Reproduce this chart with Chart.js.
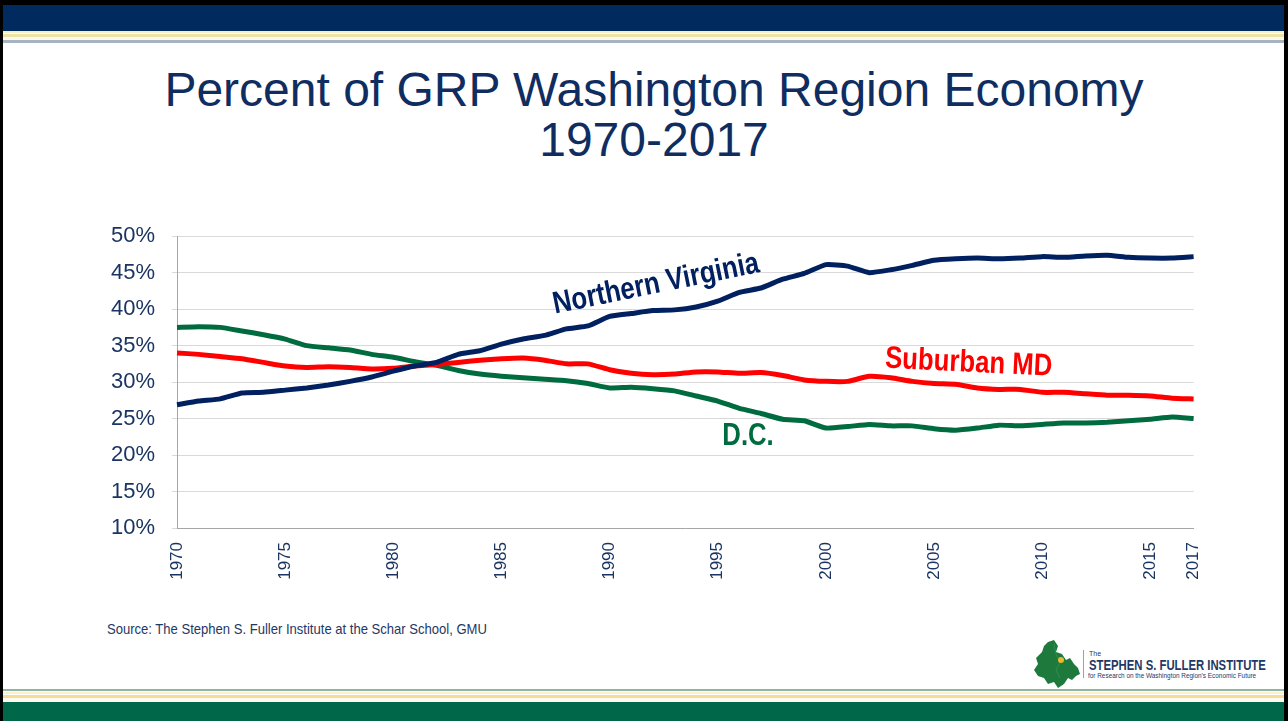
<!DOCTYPE html>
<html><head><meta charset="utf-8">
<script src="https://cdn.jsdelivr.net/npm/chart.js@4.4.1/dist/chart.umd.min.js"></script>
<style>
html,body{margin:0;padding:0;background:#fff;}
body{width:1288px;height:721px;position:relative;overflow:hidden;font-family:'Liberation Sans',Arial,sans-serif;}
.abs{position:absolute;}
.title{position:absolute;left:0;width:1308px;text-align:center;font-size:48px;line-height:50px;color:#0f2d61;white-space:nowrap;}
</style></head><body>
<!-- header -->
<div class="abs" style="left:0;top:0;width:1288px;height:5px;background:#000"></div>
<div class="abs" style="left:0;top:5px;width:1288px;height:26px;background:#012a5e"></div>
<div class="abs" style="left:0;top:31px;width:1288px;height:2px;background:#f6f0c8"></div>
<div class="abs" style="left:0;top:34px;width:1288px;height:3px;background:#efe4a6"></div>
<div class="abs" style="left:0;top:37px;width:1288px;height:3px;background:#fcfaef"></div>
<div class="abs" style="left:0;top:40px;width:1288px;height:3px;background:#a7b3c1"></div>
<!-- footer -->
<div class="abs" style="left:0;top:689px;width:1288px;height:2px;background:#8fb5a6"></div>
<div class="abs" style="left:0;top:692px;width:1288px;height:2px;background:#fbf2cc"></div>
<div class="abs" style="left:0;top:695px;width:1288px;height:3px;background:#f5dc98"></div>
<div class="abs" style="left:0;top:698px;width:1288px;height:4px;background:#fdfaf0"></div>
<div class="abs" style="left:0;top:702px;width:1288px;height:19px;background:#006848"></div>
<!-- side borders -->
<div class="abs" style="left:0;top:0;width:3px;height:721px;background:#000"></div>
<div class="abs" style="left:1284px;top:0;width:4px;height:721px;background:#000"></div>

<div class="title" style="top:65px">Percent of GRP Washington Region Economy</div>
<div class="title" style="top:115px">1970-2017</div>

<div class="abs" style="left:80px;top:206px;width:1148px;height:394px;">
  <canvas id="c" width="1148" height="394"></canvas>
</div>

<div class="abs" style="left:107px;top:621px;font-size:14.5px;line-height:16px;color:#1f3864;transform:scaleX(0.9);transform-origin:left top;white-space:nowrap;">Source: The Stephen S. Fuller Institute at the Schar School, GMU</div>

<!-- logo -->
<svg class="abs" style="left:1030px;top:638px" width="56" height="52" viewBox="0 0 56 52">
  <path d="M18 4 L24 2 L28 8 L26 14 L32 16 L36 22 L40 20 L44 26 L48 30 L50 36 L46 38 L42 42 L38 40 L34 46 L28 50 L24 44 L18 46 L14 40 L8 38 L4 32 L8 26 L6 20 L12 14 L14 8 Z" fill="#1e7a3c"/>
  <path d="M24 6 L26 16 L30 24 L26 32 L30 40" stroke="#2f8f4e" stroke-width="1" fill="none"/>
  <circle cx="31" cy="22" r="3" fill="#e8b92a"/>
</svg>
<div class="abs" style="left:1083px;top:650px;width:1px;height:28px;background:#9aa3ad"></div>
<div class="abs" style="left:1089px;top:650px;font-size:7px;line-height:8px;color:#1f3864;">The</div>
<div class="abs" style="left:1089px;top:657px;font-size:15px;line-height:15px;font-weight:bold;color:#1f3864;transform:scaleX(0.755);transform-origin:left top;white-space:nowrap;">STEPHEN S. FULLER INSTITUTE</div>
<div class="abs" style="left:1088px;top:671px;font-size:8px;line-height:9px;color:#1f3864;transform:scaleX(0.8);transform-origin:left top;white-space:nowrap;">for Research on the Washington Region's Economic Future</div>

<script>
const years = ['1970','1971','1972','1973','1974','1975','1976','1977','1978','1979',
  '1980','1981','1982','1983','1984','1985','1986','1987','1988','1989',
  '1990','1991','1992','1993','1994','1995','1996','1997','1998','1999',
  '2000','2001','2002','2003','2004','2005','2006','2007','2008','2009',
  '2010','2011','2012','2013','2014','2015','2016','2017'];

const northernVirginia = [26.9,27.4,27.7,28.5,28.6,28.9,29.2,29.6,30.1,30.7,
  31.5,32.2,32.7,33.8,34.3,35.2,35.9,36.4,37.3,37.7,
  39.0,39.4,39.8,39.9,40.3,41.1,42.3,42.9,44.1,44.9,
  46.1,45.9,45.0,45.4,46.0,46.7,46.9,47.0,46.9,47.0,
  47.2,47.1,47.3,47.4,47.1,47.0,47.0,47.2];

const suburbanMD = [34.0,33.8,33.5,33.2,32.7,32.2,32.0,32.1,32.0,31.8,
  31.9,32.2,32.4,32.7,33.0,33.2,33.3,33.0,32.5,32.5,
  31.7,31.2,31.0,31.1,31.4,31.4,31.2,31.3,30.9,30.3,
  30.1,30.1,30.8,30.6,30.1,29.8,29.7,29.2,29.0,29.0,
  28.6,28.6,28.4,28.2,28.2,28.1,27.8,27.7];

const dc = [37.5,37.6,37.5,37.0,36.5,35.9,35.0,34.7,34.4,33.8,
  33.4,32.8,32.3,31.6,31.1,30.8,30.6,30.4,30.2,29.8,
  29.2,29.3,29.1,28.8,28.1,27.4,26.4,25.7,24.9,24.7,
  23.7,23.9,24.2,24.0,24.0,23.6,23.4,23.7,24.1,24.0,
  24.2,24.4,24.4,24.5,24.7,24.9,25.2,25.0];

const yTickValues = [10,15,20,25,30,35,40,45,50];
const xTickYears = ['1970','1975','1980','1985','1990','1995','2000','2005','2010','2015','2017'];

const seriesNames = ['Northern Virginia','Suburban MD','D.C.'];
const seriesColors = ['#002060','#ff0000','#006b3f'];

// in-chart series labels, anchored in data coordinates (year index, percent)
const lineLabels = [
  {text:'Northern Virginia', xIndex:22.15, value:43.4, angle:-11.5, color:'#002060'},
  {text:'Suburban MD', xIndex:36.6, value:32.6, angle:2.8, color:'#ff0000'},
  {text:'D.C.', xIndex:26.4, value:22.6, angle:0, color:'#006b3f'}
];

const labelPlugin = {
  id:'lineLabels',
  afterDatasetsDraw(chart){
    const ctx = chart.ctx, xs = chart.scales.x, ys = chart.scales.y;
    lineLabels.forEach(l => {
      const px = xs.getPixelForValue(l.xIndex), py = ys.getPixelForValue(l.value);
      ctx.save();
      ctx.translate(px, py);
      ctx.rotate(l.angle * Math.PI / 180);
      ctx.scale(0.83, 1);
      ctx.font = 'bold 31px "Liberation Sans", Arial, sans-serif';
      ctx.fillStyle = l.color;
      ctx.textAlign = 'center';
      ctx.textBaseline = 'middle';
      ctx.fillText(l.text, 0, 0);
      ctx.restore();
    });
  }
};

const tickColor = '#1b3563';
new Chart(document.getElementById('c'), {
  type:'line',
  data:{
    labels: years,
    datasets:[
      {label:seriesNames[0], data:northernVirginia, borderColor:seriesColors[0]},
      {label:seriesNames[1], data:suburbanMD, borderColor:seriesColors[1]},
      {label:seriesNames[2], data:dc, borderColor:seriesColors[2]}
    ].map(d => Object.assign(d, {borderWidth:5, pointRadius:0, tension:0.15, fill:false, borderJoinStyle:'round', borderCapStyle:'butt'}))
  },
  options:{
    responsive:false,
    animation:false,
    layout:{padding:{top:11, right:0, left:0, bottom:0}},
    plugins:{legend:{display:false}, tooltip:{enabled:false}, title:{display:false}},
    scales:{
      x:{
        type:'category',
        offset:false,
        grid:{display:true, drawOnChartArea:false, drawTicks:false},
        border:{display:true, color:'#a6a6a6', width:1},
        ticks:{autoSkip:false, maxRotation:90, minRotation:90, padding:14, color:tickColor,
               font:{family:'"Liberation Sans", Arial, sans-serif', size:17}},
        afterBuildTicks: s => { s.ticks = s.ticks.filter(t => xTickYears.includes(years[t.value])); },
        afterFit: s => { s.height = 72; }
      },
      y:{
        min:10, max:50,
        grid:{color:'#d9d9d9', lineWidth:1, drawTicks:true, tickLength:5, tickColor:'#d9d9d9'},
        border:{display:true, color:'#a6a6a6', width:1},
        ticks:{padding:17, color:tickColor, font:{family:'"Liberation Sans", Arial, sans-serif', size:22},
               callback: v => v + '%'},
        afterBuildTicks: s => { s.ticks = yTickValues.map(v => ({value:v})); },
        afterFit: s => { s.width = 97; }
      }
    }
  },
  plugins:[labelPlugin]
});
</script>
</body></html>
